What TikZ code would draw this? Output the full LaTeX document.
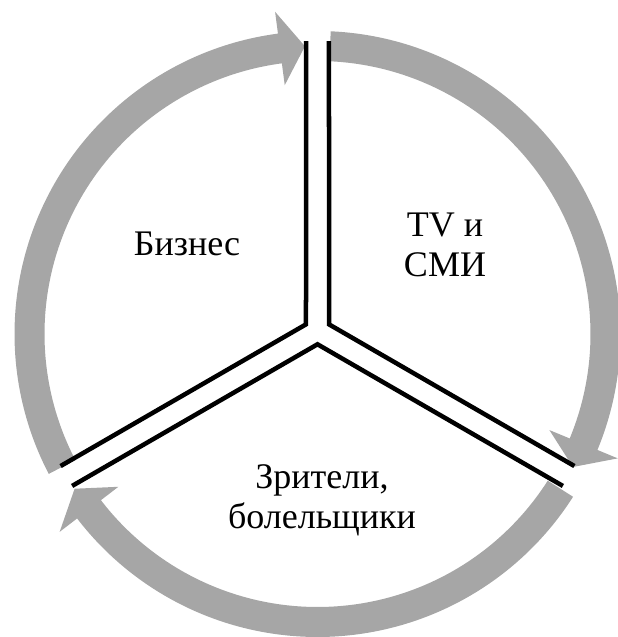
\documentclass[tikz,border=0pt]{standalone}
\usepackage{fontspec}
\setmainfont{Liberation Serif}
\definecolor{cyclegray}{RGB}{166,166,166}
\tikzset{
  cyclearrow/.style={fill=cyclegray},
  splitline/.style={black, line width=4.5pt, line join=miter},
  sectortext/.style={font=\fontsize{36}{40}\selectfont, align=center},
}

\begin{document}
\begin{tikzpicture}[x=1pt, y=1pt]
  \def\ro{303pt}
  \def\ri{273pt}
  \def\rm{288pt}
  \def\wo{325pt}
  \def\wi{251pt}
  \useasboundingbox (-317.5,-303) rectangle (300.5,334);
  % gray arc arrows, clockwise
  \foreach \s/\e in {207.5/92.5, 87.5/-27.5, -32.5/-147.5}{
    \pgfmathsetmacro\b{\e+5}
    \fill[cyclearrow] (\s:\ro) arc[start angle=\s, end angle=\b, radius=\ro]
      -- (\b:\wo) -- (\e:\rm) -- (\b:\wi) -- (\b:\ri)
      arc[start angle=\b, end angle=\s, radius=\ri] -- cycle;
  }
  % double dividing lines
  \begin{scope}[shift={(0,3)}]
    \foreach \a in {0,120,240}
      \draw[splitline, rotate=\a] (92.27:290.23) -- (150:13.28) -- (207.73:290.23);
  \end{scope}
  % sector labels
  \node[sectortext] (business) at (-130.5,90) {Бизнес};
  \node[sectortext] (media) at (127.5,89.5) {TV и\\СМИ};
  \node[sectortext] (fans) at (4.5,-166) {Зрители,\\болельщики};
\end{tikzpicture}
\end{document}
